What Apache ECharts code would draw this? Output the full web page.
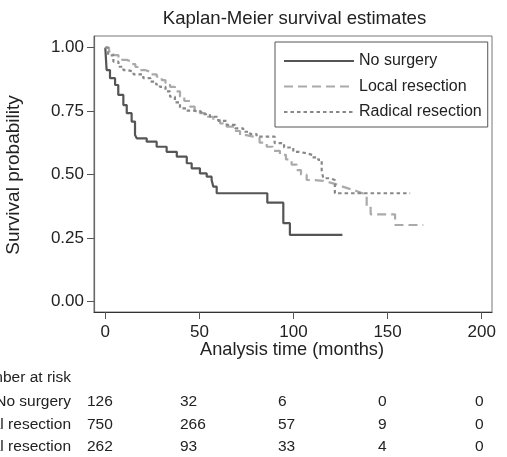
<!DOCTYPE html>
<html>
<head>
<meta charset="utf-8">
<script src="https://cdn.jsdelivr.net/npm/echarts@6/dist/echarts.min.js"></script>
<style>html,body{margin:0;padding:0;background:#fff}#c{width:507px;height:457px}</style>
</head>
<body>
<div id="c"></div>
<script>
// ---- data ----
const noSurgeryT = [0, 0.7, 2.5, 5.2, 6.9, 9.6, 11.4, 14, 15.8, 16.7, 22, 27.3, 32.6, 38, 43.3, 45.9, 50.3, 53.9, 56.5, 57.4, 59.2, 86.1, 94.6, 98.1, 126];
const noSurgeryS = [1, 0.912, 0.88, 0.853, 0.814, 0.774, 0.742, 0.709, 0.656, 0.643, 0.63, 0.61, 0.59, 0.571, 0.545, 0.525, 0.505, 0.492, 0.479, 0.453, 0.427, 0.39, 0.309, 0.263, 0.263];

const localT = [0, 2, 4.3, 7, 9, 11.4, 14, 16, 18.4, 21, 24, 27.3, 30, 32, 34.4, 37, 39.7, 42, 45, 47.5, 50.3, 54, 57.4, 61, 64.5, 68, 71.6, 75, 78.6, 82, 85.8, 89, 92.8, 96, 99, 101.7, 104, 107, 111, 115.8, 118, 121, 124, 126.5, 129, 131.8, 134.5, 137, 138.9, 141, 154, 169];
const localS = [1, 0.985, 0.971, 0.96, 0.952, 0.945, 0.935, 0.924, 0.912, 0.905, 0.895, 0.886, 0.872, 0.86, 0.846, 0.828, 0.807, 0.79, 0.768, 0.755, 0.742, 0.728, 0.715, 0.702, 0.689, 0.672, 0.656, 0.65, 0.643, 0.626, 0.61, 0.594, 0.578, 0.56, 0.54, 0.518, 0.5, 0.479, 0.476, 0.472, 0.466, 0.459, 0.452, 0.446, 0.44, 0.433, 0.426, 0.42, 0.374, 0.344, 0.302, 0.302];

const radicalT = [0, 1.5, 4.3, 7, 9.6, 11.4, 15, 20.2, 24, 27, 29, 32, 34.4, 37, 39.7, 43, 46.8, 51, 55.6, 60, 64.5, 69, 73.3, 77, 80.4, 90, 95, 99.9, 103, 107, 110, 113.2, 115, 115.8, 119.4, 122, 162];
const radicalS = [1, 0.97, 0.945, 0.925, 0.912, 0.906, 0.895, 0.88, 0.866, 0.855, 0.846, 0.828, 0.807, 0.785, 0.761, 0.752, 0.748, 0.738, 0.728, 0.712, 0.696, 0.682, 0.669, 0.66, 0.65, 0.624, 0.607, 0.59, 0.584, 0.578, 0.568, 0.558, 0.518, 0.486, 0.479, 0.427, 0.427];

const seriesNames = ['No surgery', 'Local resection', 'Radical resection'];
const xTicks = [0, 50, 100, 150, 200];
const yTicks = [0, 0.25, 0.5, 0.75, 1];

const riskLabels = ['No surgery', 'Local resection', 'Radical resection'];
const riskNo = [126, 32, 6, 0, 0];
const riskLocal = [750, 266, 57, 9, 0];
const riskRadical = [262, 93, 33, 4, 0];

// ---- layout ----
const FONT = '"Liberation Sans", Arial, Helvetica, sans-serif';
const riskColX = [87, 180, 278, 378, 475];
const riskRowY = [402, 425, 447];

function pairs(t, s) { return t.map((v, i) => [v, s[i]]); }

const chart = echarts.init(document.getElementById('c'), null, { renderer: 'canvas' });

const graphics = [
  { type: 'text', x: 294.5, y: 19, style: { text: 'Kaplan-Meier survival estimates', font: '18.6px ' + FONT, fill: '#222', align: 'center', verticalAlign: 'middle' } },
  { type: 'text', x: 292, y: 350, style: { text: 'Analysis time (months)', font: '18.2px ' + FONT, fill: '#222', align: 'center', verticalAlign: 'middle' } },
  { type: 'text', x: 14, y: 175, rotation: Math.PI / 2, style: { text: 'Survival probability', font: '19px ' + FONT, fill: '#222', align: 'center', verticalAlign: 'middle' } },
  { type: 'text', x: 71, y: 378, style: { text: 'Number at risk', font: '15.5px ' + FONT, fill: '#222', align: 'right', verticalAlign: 'middle' } }
];
const riskRows = [riskNo, riskLocal, riskRadical];
riskLabels.forEach((lab, r) => {
  graphics.push({ type: 'text', x: 71, y: riskRowY[r], style: { text: lab, font: '15.5px ' + FONT, fill: '#222', align: 'right', verticalAlign: 'middle' } });
  riskRows[r].forEach((v, c) => {
    graphics.push({ type: 'text', x: riskColX[c], y: riskRowY[r], style: { text: String(v), font: '15.5px ' + FONT, fill: '#222', align: 'left', verticalAlign: 'middle' } });
  });
});

chart.setOption({
  animation: false,
  backgroundColor: '#fff',
  grid: { left: 94, right: 15, top: 36, bottom: 145, show: true, borderColor: '#777', borderWidth: 1, backgroundColor: '#fff' },
  legend: {
    orient: 'vertical', left: 275, top: 42,
    padding: [11, 6, 7, 8],
    itemWidth: 70, itemHeight: 14, itemGap: 9.5,
    borderColor: '#555', borderWidth: 1, backgroundColor: '#fff',
    itemStyle: { opacity: 0 },
    textStyle: { fontFamily: FONT, fontSize: 16, color: '#222' },
    data: seriesNames
  },
  xAxis: {
    type: 'value', min: -6, max: 205.5,
    splitLine: { show: false },
    axisLine: { onZero: false, lineStyle: { color: '#333', width: 1.2 } },
    axisTick: { customValues: xTicks, length: 7, lineStyle: { color: '#555' } },
    axisLabel: { customValues: xTicks, margin: 12, fontFamily: FONT, fontSize: 17, color: '#222' }
  },
  yAxis: {
    type: 'value', min: -0.0406, max: 1.046,
    splitLine: { show: false },
    axisLine: { onZero: false, lineStyle: { color: '#666', width: 1.2 } },
    axisTick: { customValues: yTicks, length: 7, lineStyle: { color: '#555' } },
    axisLabel: { customValues: yTicks, margin: 10, fontFamily: FONT, fontSize: 17, color: '#222', formatter: v => v.toFixed(2) }
  },
  series: [
    { name: seriesNames[0], type: 'line', step: 'end', symbol: 'none', data: pairs(noSurgeryT, noSurgeryS),
      lineStyle: { color: '#555', width: 2.2 }, itemStyle: { color: '#555' } },
    { name: seriesNames[1], type: 'line', step: 'end', symbol: 'none', data: pairs(localT, localS),
      lineStyle: { color: '#aaa', width: 2.2, type: [9, 5] }, itemStyle: { color: '#aaa' } },
    { name: seriesNames[2], type: 'line', step: 'end', symbol: 'none', data: pairs(radicalT, radicalS),
      lineStyle: { color: '#888', width: 2.2, type: [3.5, 3] }, itemStyle: { color: '#888' } }
  ],
  graphic: graphics
});
</script>
</body>
</html>
